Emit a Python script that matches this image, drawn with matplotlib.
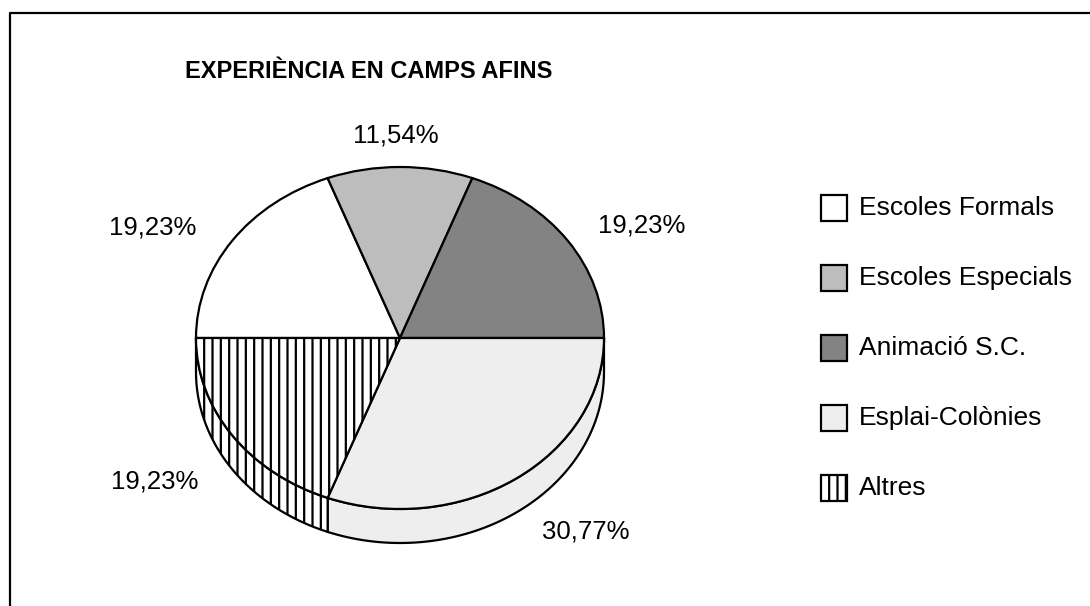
import numpy as np
import matplotlib
matplotlib.use('Agg')
import matplotlib.pyplot as plt
from matplotlib.patches import Polygon, Rectangle

plt.rcParams['font.family'] = ['Liberation Sans', 'DejaVu Sans']
plt.rcParams['hatch.linewidth'] = 1.6

# data
title = 'EXPERIÈNCIA EN CAMPS AFINS'
categories = ['Escoles Formals', 'Escoles Especials', 'Animació S.C.', 'Esplai-Colònies', 'Altres']
values = [19.23, 11.54, 19.23, 30.77, 19.23]
colors = ['white', '#bdbdbd', '#838383', '#eeeeee', 'white']
hatches = [None, None, None, None, '||']

W, H = 1090, 606
fig = plt.figure(figsize=(W / 100, H / 100), dpi=100)

# background axes in pixel units (y down) for frame, texts and legend
bg = fig.add_axes([0, 0, 1, 1])
bg.set_xlim(0, W)
bg.set_ylim(H, 0)
bg.axis('off')
bg.plot([10, 10, W], [H, 13, 13], color='black', lw=1.6)

bg.text(185, 72, title, fontsize=17, fontweight='bold', ha='left', va='center')

# pie axes: centre (400,338) px, radii 204 x 171 px -> tilted look
cx, cy, rx, ry = 400, 338, 204, 171
xl, ytop, ybot = 1.2, 1.2, 1.4
ax = fig.add_axes([(cx - xl * rx) / W, (H - cy - ybot * ry) / H,
                   2 * xl * rx / W, (ytop + ybot) * ry / H])
wedges, _ = ax.pie(values, colors=colors, startangle=180, counterclock=False,
                   wedgeprops=dict(edgecolor='black', linewidth=1.6))
for w, h in zip(wedges, hatches):
    if h:
        w.set_hatch(h)
ax.set_aspect('auto')
ax.set_xlim(-xl, xl)
ax.set_ylim(-ybot, ytop)
ax.axis('off')

# side wall of the front half
depth = 34 / ry
for w, h in zip(wedges, hatches):
    lo, hi = max(w.theta1, -180), min(w.theta2, 0)
    if hi <= lo:
        continue
    t = np.radians(np.linspace(lo, hi, 80))
    top = np.column_stack([np.cos(t), np.sin(t)])
    bot = np.column_stack([np.cos(t), np.sin(t) - depth])[::-1]
    side = Polygon(np.vstack([top, bot]), closed=True, facecolor=w.get_facecolor(),
                   edgecolor='black', linewidth=1.6, hatch=h, zorder=0.5)
    ax.add_patch(side)

# percentage labels
label_pos = [(153, 228), (396, 135), (642, 226), (586, 532), (155, 481)]
for v, (x, y) in zip(values, label_pos):
    bg.text(x, y, f'{v:.2f}%'.replace('.', ','), fontsize=18.5, ha='center', va='center')

# legend
leg_y = [208, 278, 348, 418, 488]
for name, c, h, y in zip(categories, colors, hatches, leg_y):
    bg.add_patch(Rectangle((821, y - 13), 26, 26, facecolor=c, edgecolor='black',
                           linewidth=1.6, hatch=h))
    bg.text(859, y, name, fontsize=19, ha='left', va='center')

fig.savefig('out.png', dpi=100)
